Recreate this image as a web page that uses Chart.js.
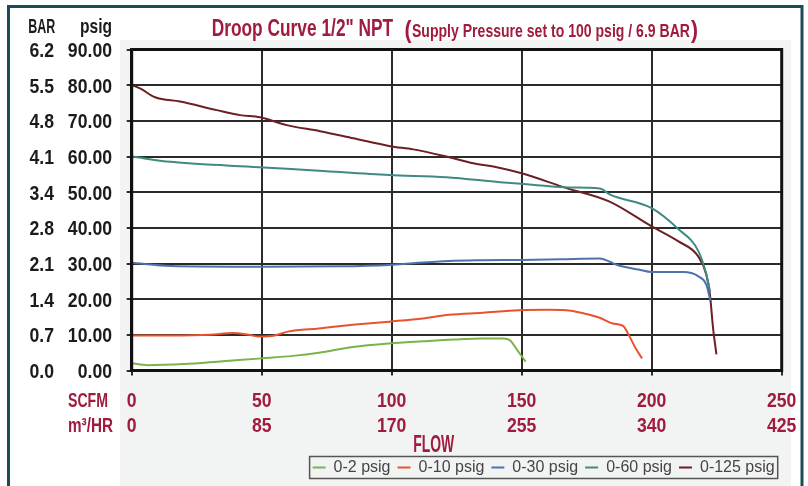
<!DOCTYPE html>
<html>
<head>
<meta charset="utf-8">
<title>Droop Curve 1/2" NPT</title>
<script src="https://cdn.jsdelivr.net/npm/chart.js@4.4.0/dist/chart.umd.min.js"></script>
<style>
  html, body { margin: 0; padding: 0; background: #fff; }
  canvas { display: block; }
</style>
</head>
<body>
<canvas id="droopChart" width="808" height="486"></canvas>
<script>
// tick labels
var barLabels = ["0.0", "0.7", "1.4", "2.1", "2.8", "3.4", "4.1", "4.8", "5.5", "6.2"];
var m3hrLabels = ["0", "85", "170", "255", "340", "425"];
var seriesNames = ["0-2 psig", "0-10 psig", "0-30 psig", "0-60 psig", "0-125 psig"];

// flow (SCFM) and outlet pressure (psig)
var flow2 = [0, 6, 20, 35, 50, 62, 72, 85, 99, 112, 124, 135, 143, 145.5, 148.5, 151.5];
var psig2 = [2.0, 1.5, 1.8, 2.6, 3.4, 4.1, 5.0, 6.6, 7.6, 8.2, 8.7, 9.0, 9.0, 8.5, 5.5, 2.5];

var flow10 = [0, 15, 30, 39, 45, 49, 55, 60, 72, 85, 99, 112, 122, 135, 149, 160, 167, 174, 180, 185, 189, 191.5, 194, 196.3];
var psig10 = [9.8, 9.8, 10.0, 10.5, 10.0, 9.5, 9.8, 10.9, 11.8, 12.8, 13.7, 14.6, 15.6, 16.2, 16.9, 17.0, 16.9, 16.0, 14.8, 13.2, 12.5, 9.5, 6.0, 3.4];

var flow30 = [0, 15, 50, 80, 99, 110, 122, 135, 150, 165, 180, 187, 195, 200, 212, 218, 221, 222.6];
var psig30 = [30.2, 29.3, 29.1, 29.2, 29.6, 30.2, 30.7, 30.9, 31.0, 31.2, 31.4, 29.5, 28.3, 27.6, 27.6, 26.4, 24.1, 19.5];

var flow60 = [0, 15, 49, 72, 99, 121, 141.7, 154, 168, 180, 184, 200, 210, 218, 221, 222.5];
var psig60 = [60, 58.5, 57.0, 56.0, 54.8, 54.2, 52.8, 52.1, 51.3, 51.0, 49.3, 45.5, 39.8, 33.4, 27, 22];

var flow125 = [0, 3.2, 9, 18.6, 32.7, 41.7, 49.4, 59.6, 72.4, 85.3, 99.4, 108.3, 121, 131.4, 140.4, 150, 167, 183.6, 200, 210.3, 217.9, 221, 222.4, 223.6, 224.9];
var psig125 = [80, 79.1, 76.6, 75.4, 73.0, 71.6, 71.0, 68.8, 67.1, 65.1, 62.9, 62.0, 60.0, 58.1, 57.0, 55.3, 51.2, 47.4, 40.4, 36.2, 32.0, 26.9, 21.3, 11.9, 4.5];

// no condensed face installed, so bold text gets squeezed horizontally
var FACE = '"Liberation Sans", Arial, sans-serif';
var RED = "#a01b3d";
var INK = "#1b1b1b";
var SQ = 0.84;

function points(xs, ys) {
  return xs.map(function (x, i) { return { x: x, y: ys[i] }; });
}

function makeSet(i, xs, ys, color) {
  return {
    label: seriesNames[i],
    data: points(xs, ys),
    borderColor: color,
    backgroundColor: color,
    borderWidth: 2,
    pointRadius: 0,
    cubicInterpolationMode: "monotone"
  };
}

// fixed axis sizes so the plot lands where the original one is
function fixSize(w, h) {
  return function (s) {
    if (w) s.width = w;
    if (h) s.height = h;
    s.paddingLeft = 0; s.paddingRight = 0; s.paddingTop = 0; s.paddingBottom = 0;
  };
}

function squeeze(ctx, text, x, y, sx, align) {
  ctx.save();
  ctx.translate(x, y);
  ctx.scale(sx, 1);
  ctx.textAlign = align || "left";
  ctx.fillText(text, 0, 0);
  ctx.restore();
}

// draw text squeezed to a given width
function fitText(ctx, text, x, y, w, align) {
  squeeze(ctx, text, x, y, w / ctx.measureText(text).width, align);
}

// tick labels, placed from the scale's own tick pixels
function drawTickLabels(ctx, scale, offset) {
  scale.ticks.forEach(function (t) {
    var p = scale.getPixelForValue(t.value);
    if (scale.isHorizontal()) {
      squeeze(ctx, t.label, p, scale.top + offset, SQ, "center");
    } else {
      squeeze(ctx, t.label, scale.right - offset, p + 7.5, SQ, "right");
    }
  });
}

var decor = {
  id: "decor",
  beforeDraw: function (chart) {
    var ctx = chart.ctx, a = chart.chartArea;
    ctx.save();
    ctx.fillStyle = "#fff";
    ctx.fillRect(0, 0, chart.width, chart.height);
    ctx.fillStyle = "#f2f3f3";
    ctx.fillRect(120, 40, 671, 446);
    ctx.fillStyle = "#fff";
    ctx.fillRect(a.left, a.top, a.right - a.left, a.bottom - a.top);
    ctx.strokeStyle = "#1d4a58";
    ctx.lineWidth = 3;
    ctx.strokeRect(8.5, 6.5, 793.5, 490);
    ctx.restore();
  },
  afterDraw: function (chart) {
    var ctx = chart.ctx, a = chart.chartArea, s = chart.scales;
    ctx.save();
    // plot frame
    ctx.strokeStyle = "#111";
    ctx.lineWidth = 3;
    ctx.strokeRect(a.left, a.top, a.right - a.left, a.bottom - a.top);

    ctx.textBaseline = "alphabetic";

    // title
    ctx.fillStyle = RED;
    ctx.font = "bold 24px " + FACE;
    fitText(ctx, 'Droop Curve 1/2" NPT', 211.7, 36, 181.5);
    fitText(ctx, "(", 404.5, 37.5, 7);
    fitText(ctx, ")", 691, 37.5, 7);
    ctx.font = "bold 19px " + FACE;
    fitText(ctx, "Supply Pressure set to 100 psig / 6.9 BAR", 412, 36.5, 278);

    // tick labels
    ctx.font = "bold 21px " + FACE;
    ctx.fillStyle = INK;
    drawTickLabels(ctx, s.y, 19.7);
    drawTickLabels(ctx, s.yBar, 6);
    ctx.fillStyle = RED;
    drawTickLabels(ctx, s.x, 36);
    drawTickLabels(ctx, s.x2, 21.5);

    // axis headers
    ctx.fillStyle = INK;
    ctx.font = "bold 21px " + FACE;
    fitText(ctx, "BAR", 41.7, 33.3, 27, "center");
    fitText(ctx, "psig", 112, 33.3, 32, "right");

    ctx.fillStyle = RED;
    fitText(ctx, "SCFM", 108, 406.5, 40, "right");
    fitText(ctx, "m\u00b3/HR", 113, 432, 45, "right");
    ctx.font = "bold 23px " + FACE;
    fitText(ctx, "FLOW", 433.7, 451.7, 41, "center");

    // box round the legend
    var boxes = chart.legend.legendHitBoxes;
    if (boxes && boxes.length) {
      var first = boxes[0], last = boxes[boxes.length - 1];
      ctx.strokeStyle = "#555";
      ctx.lineWidth = 1.5;
      ctx.strokeRect(first.left - 3, first.top - 3,
        last.left + last.width - first.left + 6, first.height + 6);
    }
    ctx.restore();
  }
};

var config = {
  type: "line",
  data: {
    datasets: [
      makeSet(0, flow2, psig2, "#7cb24a"),
      makeSet(1, flow10, psig10, "#e9522f"),
      makeSet(2, flow30, psig30, "#4e72ad"),
      makeSet(3, flow60, psig60, "#3f8b82"),
      makeSet(4, flow125, psig125, "#6d1f22")
    ]
  },
  options: {
    responsive: false,
    animation: false,
    layout: { padding: { left: 10, right: 26.3, top: 49.5, bottom: 0.5 } },
    plugins: {
      title: { display: false },
      tooltip: { enabled: false },
      legend: {
        position: "bottom",
        align: "end",
        labels: {
          usePointStyle: true,
          pointStyle: "line",
          pointStyleWidth: 13,
          padding: 7,
          color: "#454545",
          font: { family: FACE, size: 16 }
        }
      }
    },
    scales: {
      x: {
        type: "linear", position: "bottom", weight: 0, min: 0, max: 250,
        ticks: { stepSize: 50, display: false },
        grid: { color: "#2b2b2b", lineWidth: 2, tickLength: 5 },
        border: { color: "#111", width: 3 },
        afterFit: fixSize(0, 40)
      },
      x2: {
        type: "linear", position: "bottom", weight: 1, min: 0, max: 250,
        ticks: {
          stepSize: 50, display: false,
          callback: function (v, i) { return m3hrLabels[i]; }
        },
        grid: { display: false },
        border: { display: false },
        afterFit: fixSize(0, 42)
      },
      y: {
        type: "linear", position: "left", weight: 0, min: 0, max: 90,
        ticks: {
          stepSize: 10, display: false,
          callback: function (v) { return v.toFixed(2); }
        },
        grid: { color: "#2b2b2b", lineWidth: 2, tickLength: 5 },
        border: { color: "#111", width: 3 },
        afterFit: fixSize(71.7, 0)
      },
      yBar: {
        type: "linear", position: "left", weight: 1, min: 0, max: 90,
        ticks: {
          stepSize: 10, display: false,
          callback: function (v, i) { return barLabels[i]; }
        },
        grid: { display: false },
        border: { display: false },
        afterFit: fixSize(50, 0)
      }
    }
  },
  plugins: [decor]
};

var myChart = new Chart(document.getElementById("droopChart"), config);
</script>
</body>
</html>
